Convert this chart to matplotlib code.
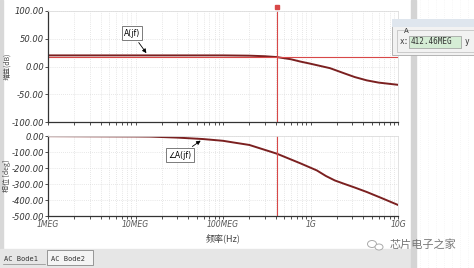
import numpy as np
import matplotlib
matplotlib.use("Agg")
import matplotlib.pyplot as plt
from matplotlib.patches import Rectangle, Ellipse
from matplotlib.ticker import FixedLocator, LogLocator, NullFormatter

plt.rcParams['font.family'] = ['DejaVu Sans', 'Noto Sans CJK SC']

# values
freq_gain = [1e6, 1e7, 1e8, 2e8, 3e8, 4.12e8, 6e8, 7.6e8, 1.0e9, 1.67e9, 2.5e9, 3.2e9, 4.4e9, 6e9, 1e10]
gain_db = [20, 20, 20, 19.5, 18.5, 17, 13, 9, 5, -3, -13, -19, -25, -29, -33]

freq_phase = [1e6, 1e7, 1.5e7, 3e7, 5.9e7, 1e8, 1.3e8, 2e8, 4.1e8, 7.6e8, 1.18e9, 1.5e9,
              1.9e9, 2.4e9, 3.2e9, 4.4e9, 6.5e9, 1e10]
phase_deg = [-1, -3, -4, -10, -19, -30, -40, -56, -110, -170, -215, -250,
             -278, -298, -322, -350, -388, -431]

cursor_f = 412.46e6
cursor_gain = 18
x_ticks = [1e6, 1e7, 1e8, 1e9, 1e10]
x_labels = ['1MEG', '10MEG', '100MEG', '1G', '10G']
gain_ticks = [-100, -50, 0, 50, 100]
phase_ticks = [-500, -400, -300, -200, -100, 0]

W, H = 474, 268
curve_c = '#7b2020'
cursor_c = '#d84848'
tick_c = '#555555'
cjk = ['Noto Sans CJK SC', 'DejaVu Sans']

fig = plt.figure(figsize=(W / 100, H / 100), dpi=100)

# background (pixel coordinates)
bg = fig.add_axes([0, 0, 1, 1], zorder=-5)
bg.set_xlim(0, W)
bg.set_ylim(H, 0)
bg.axis('off')
bg.add_patch(Rectangle((0, 0), 3, 250, color='#d8d8d8'))
bg.add_patch(Rectangle((0, 249), 412, 19, color='#e6e6e6'))
bg.add_patch(Rectangle((411, 0), 5, H, color='#d4d4d4'))
for gx in range(420, W, 8):
    bg.plot([gx, gx], [0, H], color='#eeeeee', lw=0.5, ls=(0, (1, 2)))


def pix_axes(l, t, r, b):
    return fig.add_axes([l / W, 1 - b / H, (r - l) / W, (b - t) / H])


def style(ax, yticks):
    ax.set_xscale('log')
    ax.set_xlim(1e6, 1e10)
    ax.set_yticks(yticks)
    ax.set_yticklabels(['%.2f' % v for v in yticks], fontsize=6, style='italic', color=tick_c)
    ax.xaxis.set_major_locator(FixedLocator(x_ticks))
    ax.xaxis.set_minor_locator(LogLocator(base=10, subs=np.arange(2, 10)))
    ax.xaxis.set_minor_formatter(NullFormatter())
    ax.grid(True, which='both', axis='x', color='#d0d0d0', ls=(0, (1, 2)), lw=0.5)
    ax.grid(True, which='major', axis='y', color='#d0d0d0', ls=(0, (1, 2)), lw=0.5)
    ax.tick_params(which='both', length=2, width=0.6, colors='#333333', pad=1)
    for side in ['top', 'right']:
        ax.spines[side].set_color('#dddddd')
        ax.spines[side].set_linewidth(0.6)
    for side in ['left', 'bottom']:
        ax.spines[side].set_color('#333333')
        ax.spines[side].set_linewidth(0.9)


# gain plot
ax1 = pix_axes(48, 11, 398, 122)
ax1.plot(freq_gain, gain_db, color=curve_c, lw=1.4)
ax1.axhline(cursor_gain, color=cursor_c, lw=0.8)
ax1.axvline(cursor_f, color=cursor_c, lw=0.8)
ax1.set_ylim(-100, 100)
style(ax1, gain_ticks)
ax1.set_xticklabels([])
ax1.set_ylabel('增益(dB)', fontsize=5, color='#444444', family=cjk)
ax1.yaxis.set_label_coords(-0.105, 0.5)
ax1.plot([cursor_f], [108], marker='s', ms=3, color=cursor_c, clip_on=False)
ax1.annotate('A(jf)', xy=(1.39e7, 20), xytext=(0.24, 0.80), textcoords='axes fraction',
             fontsize=5.5, ha='center', va='center',
             bbox=dict(boxstyle='square,pad=0.3', fc='white', ec='#666666', lw=0.6),
             arrowprops=dict(arrowstyle='-|>', color='black', lw=0.6, mutation_scale=6))

# phase plot
ax2 = pix_axes(48, 136, 398, 216)
ax2.plot(freq_phase, phase_deg, color=curve_c, lw=1.4)
ax2.axvline(cursor_f, color=cursor_c, lw=0.8)
ax2.set_ylim(-500, 0)
style(ax2, phase_ticks)
ax2.set_xticklabels(x_labels, fontsize=5.5, style='italic', color=tick_c)
ax2.set_ylabel('相位 [deg]', fontsize=5, color='#444444', family=cjk)
ax2.yaxis.set_label_coords(-0.105, 0.5)
ax2.set_xlabel('频率(Hz)', fontsize=6.5, color='#444444', labelpad=3, family=cjk)
ax2.annotate('∠A(jf)', xy=(5.9e7, -19), xytext=(0.377, 0.76), textcoords='axes fraction',
             fontsize=5.5, ha='center', va='center',
             bbox=dict(boxstyle='square,pad=0.3', fc='white', ec='#666666', lw=0.6),
             arrowprops=dict(arrowstyle='-|>', color='black', lw=0.6, mutation_scale=6))

# foreground: cursor dialog, tabs, watermark
fg = fig.add_axes([0, 0, 1, 1], zorder=10)
fg.set_xlim(0, W)
fg.set_ylim(H, 0)
fg.axis('off')
fg.patch.set_alpha(0)
fg.add_patch(Rectangle((392, 19), 82, 36, fc='#f2f2f2', ec='#aaaaaa', lw=0.6))
fg.add_patch(Rectangle((392, 19), 82, 8, fc='#dfe6ee', ec='none'))
fg.add_patch(Rectangle((397, 30), 77, 22, fc='none', ec='#bbbbbb', lw=0.5))
fg.text(404, 31, 'A', fontsize=5, va='center', color='#333333')
fg.text(400, 42, 'x:', fontsize=5.5, va='center', color='#333333', family='DejaVu Sans Mono')
fg.add_patch(Rectangle((409, 36), 52, 12, fc='#d5edd5', ec='#999999', lw=0.5))
fg.text(411, 42, '412.46MEG', fontsize=5.5, va='center', color='#333333', family='DejaVu Sans Mono')
fg.text(465, 42, 'y', fontsize=5.5, va='center', color='#333333', family='DejaVu Sans Mono')

fg.text(4, 259, 'AC Bode1', fontsize=5, va='center', color='#333333', family='DejaVu Sans Mono')
fg.plot([3, 45], [264, 264], color='#888888', lw=0.5)
fg.add_patch(Rectangle((47, 250), 46, 15, fc='#f4f4f4', ec='#888888', lw=0.6))
fg.text(51, 259, 'AC Bode2', fontsize=5, va='center', color='#333333', family='DejaVu Sans Mono')

# watermark with a simple chat-bubble icon
fg.add_patch(Ellipse((372, 244), 9, 7, fc='none', ec='#aaaaaa', lw=0.7))
fg.add_patch(Ellipse((379, 247), 8, 6, fc='white', ec='#aaaaaa', lw=0.7))
fg.text(390, 245, '芯片电子之家', fontsize=8, va='center', color='#777777', family=cjk)

fig.savefig('out.png', dpi=100)
